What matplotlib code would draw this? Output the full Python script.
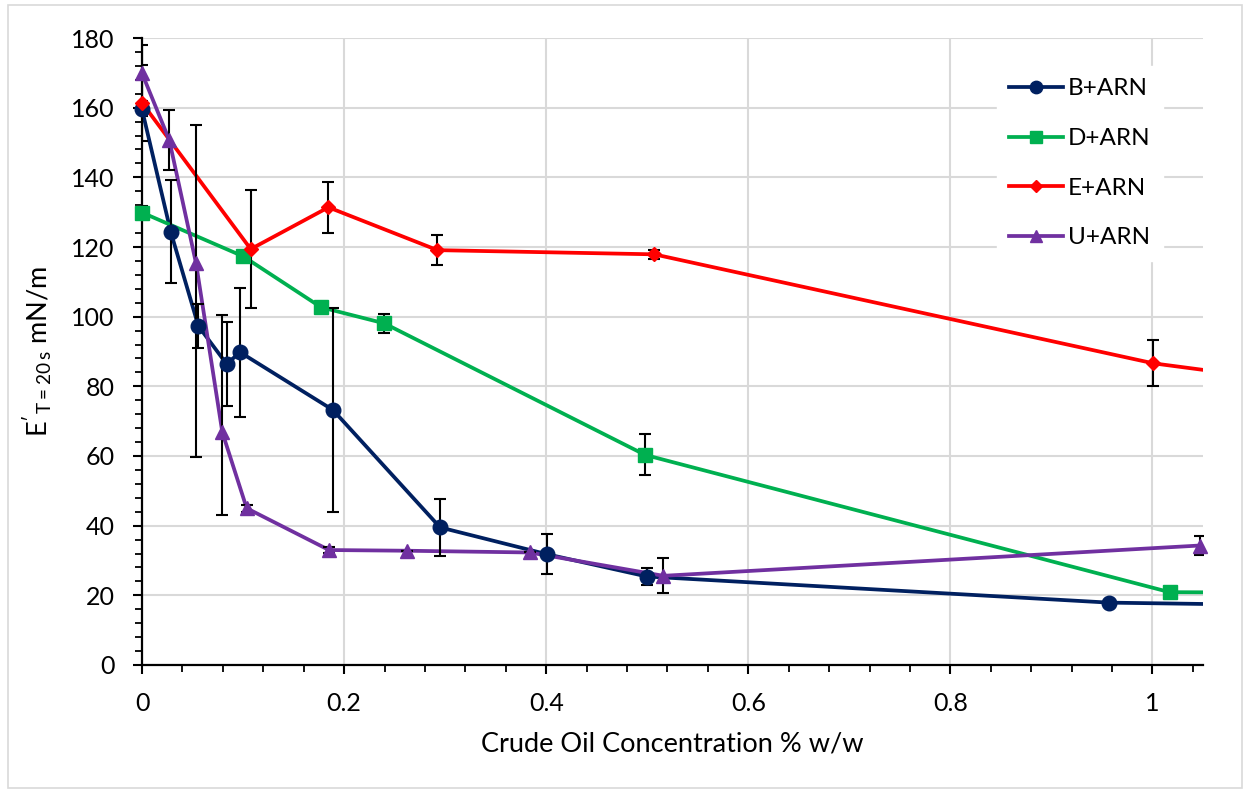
import matplotlib
matplotlib.use("Agg")
import matplotlib.pyplot as plt
from matplotlib.lines import Line2D
from matplotlib.patches import Rectangle
from matplotlib.ticker import MultipleLocator, FuncFormatter

# values (last B/D/E points sit past the x limit)
b_x = [0, 0.0284, 0.0558, 0.0838, 0.097, 0.189, 0.295, 0.4007, 0.4997, 0.957, 1.2]
b_y = [159.5, 124.4, 97.3, 86.4, 89.8, 73.2, 39.5, 31.8, 25.4, 17.9, 16.9]
b_err = [2, 14.8, 6.2, 12.1, 18.5, 29.3, 8.1, 5.8, 2.5, 0.3, 0]

d_x = [0, 0.1003, 0.1772, 0.2396, 0.498, 1.017, 1.2]
d_y = [129.9, 117.3, 102.7, 98.1, 60.3, 20.9, 20.7]
d_err = [2, 1, 1.5, 2.7, 5.9, 1, 0]

e_x = [0, 0.1076, 0.1845, 0.2924, 0.507, 1.001, 1.2]
e_y = [161.4, 119.4, 131.4, 119.1, 117.9, 86.6, 79.0]
e_err = [11, 16.9, 7.3, 4.4, 1.2, 6.6, 0]

u_x = [0, 0.027, 0.0535, 0.0795, 0.1036, 0.1851, 0.262, 0.3835, 0.516, 1.047]
u_y = [169.9, 150.7, 115.3, 66.8, 45.0, 33.0, 32.8, 32.3, 25.6, 34.3]
u_err_lo = [8, 8.6, 55.7, 23.7, 1, 0.8, 0, 0, 5, 2.8]
u_err_hi = [8, 8.6, 39.7, 33.8, 1, 0.8, 0, 0, 5, 2.8]

labels = ["B+ARN", "D+ARN", "E+ARN", "U+ARN"]
colors = ["#002060", "#00B050", "#FF0000", "#7030A0"]
markers = ["o", "s", "D", "^"]
msizes = [10.5, 10, 7.2, 10]

XMAX = 1.05

fig = plt.figure(figsize=(12.5, 7.94), dpi=100)
ax = fig.add_axes([0.1136, 0.1625, 0.8488, 0.7896])

series = [
    (b_x, b_y, [b_err, b_err]),
    (d_x, d_y, [d_err, d_err]),
    (e_x, e_y, [e_err, e_err]),
    (u_x, u_y, [u_err_lo, u_err_hi]),
]

handles = []
for i, (xs, ys, err) in enumerate(series):
    ax.plot(xs, ys, color=colors[i], lw=2.7, zorder=2)
    vis = [k for k in range(len(xs)) if xs[k] <= XMAX]
    xv = [xs[k] for k in vis]
    yv = [ys[k] for k in vis]
    lo = [err[0][k] for k in vis]
    hi = [err[1][k] for k in vis]
    ax.errorbar(xv, yv, yerr=[lo, hi], fmt="none", ecolor="black",
                elinewidth=1.5, capsize=4.3, capthick=1.5, zorder=2.5)
    ax.plot(xv, yv, ls="none", marker=markers[i], ms=msizes[i],
            color=colors[i], clip_on=False, zorder=3)
    handles.append(Line2D([], [], color=colors[i], lw=2.7,
                          marker=markers[i], ms=msizes[i] * 0.85))

ax.set_xlim(0, XMAX)
ax.set_ylim(0, 180)
ax.xaxis.set_major_locator(MultipleLocator(0.2))
ax.xaxis.set_minor_locator(MultipleLocator(0.04))
ax.yaxis.set_major_locator(MultipleLocator(20))
ax.yaxis.set_minor_locator(MultipleLocator(4))
ax.xaxis.set_major_formatter(FuncFormatter(lambda v, p: "%g" % round(v, 2)))

ax.grid(True, which="major", color="#d9d9d9", lw=1.5, zorder=0)
ax.set_axisbelow(True)
for s in ["top", "right"]:
    ax.spines[s].set_visible(False)
for s in ["left", "bottom"]:
    ax.spines[s].set_linewidth(1.6)
    ax.spines[s].set_zorder(1.5)

ax.tick_params(which="major", direction="out", length=6.5, width=1.5, pad=13)
ax.tick_params(which="minor", direction="out", length=5, width=1.3)
for t in ax.get_xticklabels() + ax.get_yticklabels():
    t.set_fontfamily("Lato")
    t.set_fontsize(18)

ax.set_xlabel("Crude Oil Concentration % w/w", fontfamily="Lato", fontsize=19.5)
ax.xaxis.set_label_coords(0.5, -0.106)
ax.set_ylabel(r"$\mathregular{E'_{T=20\,s}}$ mN/m", fontfamily="Lato",
              fontsize=19.5)
ax.yaxis.set_label_coords(-0.082, 0.5)

leg = ax.legend(handles, labels, loc="upper left",
                bbox_to_anchor=(0.806, 0.955), borderaxespad=0,
                frameon=True, fancybox=False, framealpha=1,
                prop={"family": "Lato", "size": 17.5},
                handlelength=2.2, handletextpad=0.22, labelspacing=1.18,
                borderpad=0.5)
leg.get_frame().set_edgecolor("white")
leg.get_frame().set_facecolor("white")

fig.patches.append(Rectangle((0.0064, 0.008), 0.9872, 0.986,
                             transform=fig.transFigure, fill=False,
                             edgecolor="#d9d9d9", lw=1.2))

plt.savefig("out.png", dpi=100)
